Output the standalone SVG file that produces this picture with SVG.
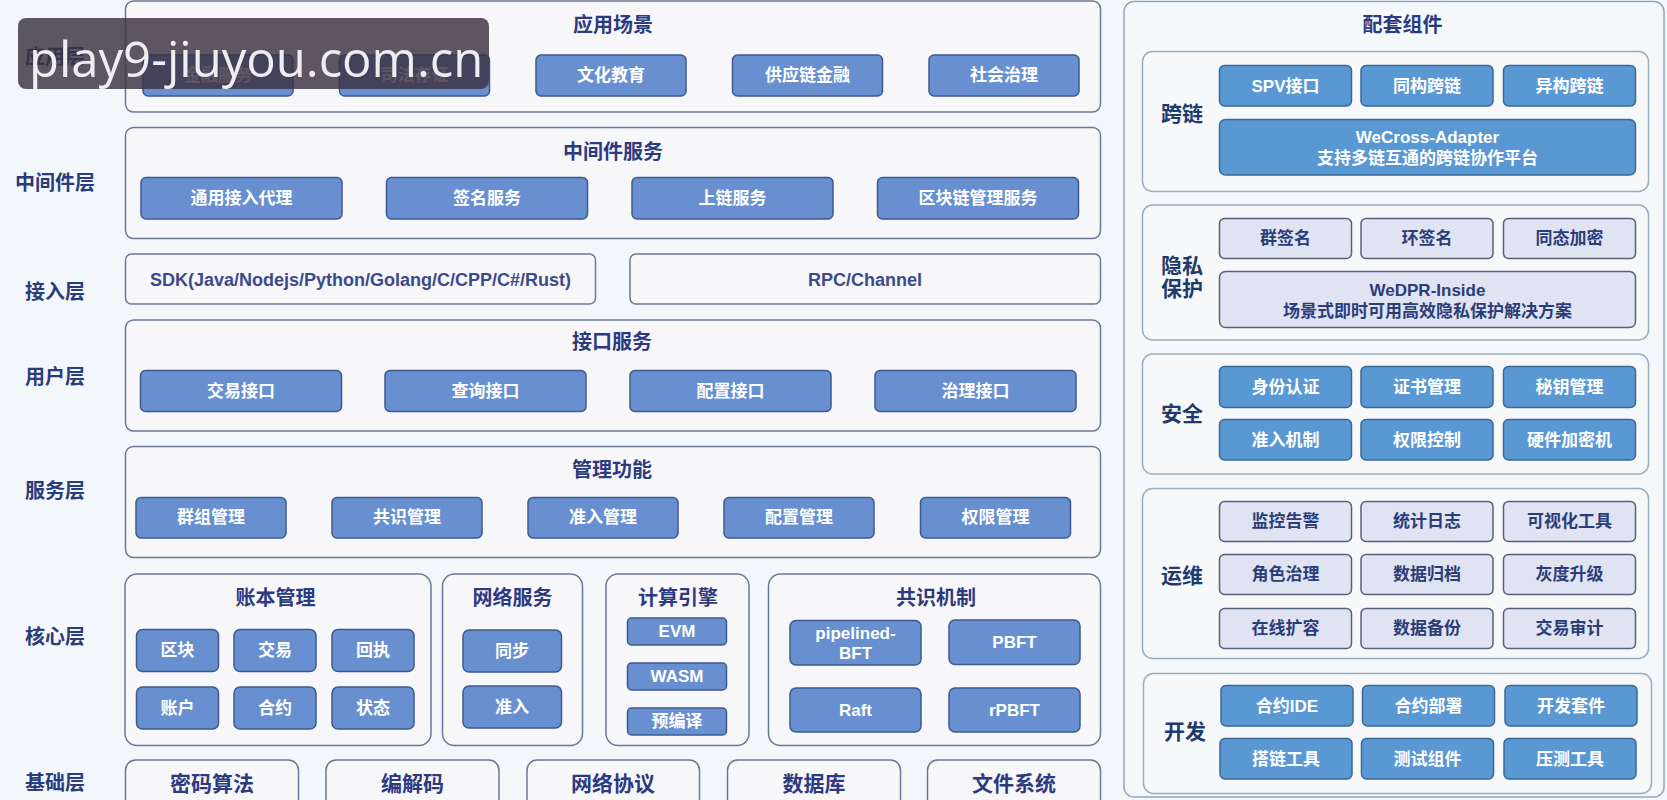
<svg xmlns="http://www.w3.org/2000/svg" width="1667" height="800" viewBox="0 0 1667 800">
  <style>
    text { font-family: "Liberation Sans", "Noto Sans CJK SC", sans-serif; font-weight: bold; text-anchor: middle; dominant-baseline: central; }
    .layer { fill: #f7f6f9; stroke: #6c7795; stroke-width: 1.5; }
    .blk { fill: #6890d0; stroke: #3d5a90; stroke-width: 1.5; }
    .wt { fill: #ffffff; font-size: 17px; }
    .ttl { fill: #2c3a80; font-size: 20px; }
    .lbl { fill: #2a3d7a; font-size: 20px; }
    .lat { fill: #3b4a8c; font-size: 18px; }
    .base { fill: #2c3a80; font-size: 21px; }
    .rpanel { fill: #f5f8fb; stroke: #8fa8bd; stroke-width: 1.5; }
    .rsec { fill: #f7f8fa; stroke: #98aec0; stroke-width: 1.5; }
    .rblk { fill: #5a98d4; stroke: #3a6896; stroke-width: 1.5; }
    .rlite { fill: #dfe3f2; stroke: #55627c; stroke-width: 1.5; }
    .dt { fill: #2b3d78; font-size: 17px; }
    .rlbl { fill: #1f3b6e; font-size: 21px; }
    .wm-box { fill: #3b3140; fill-opacity: 0.82; }
    .wm-text { font-family: "Open Sans", "Noto Sans", sans-serif; font-weight: normal; text-anchor: start; dominant-baseline: alphabetic; fill: #efedf2; font-size: 49px; }
  </style>

  <rect x="0" y="0" width="1667" height="800" fill="#f3f7fb"/>

  <!-- layer labels -->
  <g id="layer-labels">
    <text class="lbl" x="55" y="57">应用层</text>
    <text class="lbl" x="55" y="183">中间件层</text>
    <text class="lbl" x="55" y="291.5">接入层</text>
    <text class="lbl" x="55" y="376.5">用户层</text>
    <text class="lbl" x="55" y="491">服务层</text>
    <text class="lbl" x="55" y="637">核心层</text>
    <text class="lbl" x="55" y="783">基础层</text>
  </g>

  <!-- application layer -->
  <g id="app-scenarios">
    <rect class="layer" x="125.5" y="1" width="975" height="111" rx="8"/>
    <text class="ttl" x="613" y="25">应用场景</text>
    <rect class="blk" x="143" y="55" width="150" height="41" rx="5"/>
    <text class="wt" x="218" y="75.5">金融服务</text>
    <rect class="blk" x="339.5" y="55" width="150" height="41" rx="5"/>
    <text class="wt" x="414.5" y="75.5">司法存证</text>
    <rect class="blk" x="536" y="55" width="150" height="41" rx="5"/>
    <text class="wt" x="611" y="75.5">文化教育</text>
    <rect class="blk" x="732.5" y="55" width="150" height="41" rx="5"/>
    <text class="wt" x="807.5" y="75.5">供应链金融</text>
    <rect class="blk" x="929" y="55" width="150" height="41" rx="5"/>
    <text class="wt" x="1004" y="75.5">社会治理</text>
  </g>

  <!-- middleware layer -->
  <g id="middleware">
    <rect class="layer" x="125.5" y="127.5" width="975" height="111" rx="8"/>
    <text class="ttl" x="613" y="152">中间件服务</text>
    <rect class="blk" x="141" y="177.5" width="201" height="41.5" rx="5"/>
    <text class="wt" x="241.5" y="198">通用接入代理</text>
    <rect class="blk" x="386.5" y="177.5" width="201" height="41.5" rx="5"/>
    <text class="wt" x="487" y="198">签名服务</text>
    <rect class="blk" x="632" y="177.5" width="201" height="41.5" rx="5"/>
    <text class="wt" x="732.5" y="198">上链服务</text>
    <rect class="blk" x="877.5" y="177.5" width="201" height="41.5" rx="5"/>
    <text class="wt" x="978" y="198">区块链管理服务</text>
  </g>

  <!-- access layer -->
  <g id="access-sdk">
    <rect class="layer" x="125.5" y="254" width="470" height="50" rx="6"/>
    <text class="lat" x="360.5" y="280">SDK(Java/Nodejs/Python/Golang/C/CPP/C#/Rust)</text>
  </g>
  <g id="access-rpc">
    <rect class="layer" x="630" y="254" width="470.5" height="50" rx="6"/>
    <text class="lat" x="865" y="280">RPC/Channel</text>
  </g>

  <!-- user layer -->
  <g id="interface-services">
    <rect class="layer" x="125.5" y="320" width="975" height="111" rx="8"/>
    <text class="ttl" x="612" y="342">接口服务</text>
    <rect class="blk" x="140.5" y="370.5" width="201" height="41" rx="5"/>
    <text class="wt" x="241" y="391">交易接口</text>
    <rect class="blk" x="385" y="370.5" width="201" height="41" rx="5"/>
    <text class="wt" x="485.5" y="391">查询接口</text>
    <rect class="blk" x="630" y="370.5" width="201" height="41" rx="5"/>
    <text class="wt" x="730.5" y="391">配置接口</text>
    <rect class="blk" x="875" y="370.5" width="201" height="41" rx="5"/>
    <text class="wt" x="975.5" y="391">治理接口</text>
  </g>

  <!-- service layer -->
  <g id="management">
    <rect class="layer" x="125.5" y="446.5" width="975" height="111" rx="8"/>
    <text class="ttl" x="612" y="469.5">管理功能</text>
    <rect class="blk" x="136" y="497.5" width="150" height="40.5" rx="5"/>
    <text class="wt" x="211" y="517.5">群组管理</text>
    <rect class="blk" x="332" y="497.5" width="150" height="40.5" rx="5"/>
    <text class="wt" x="407" y="517.5">共识管理</text>
    <rect class="blk" x="528" y="497.5" width="150" height="40.5" rx="5"/>
    <text class="wt" x="603" y="517.5">准入管理</text>
    <rect class="blk" x="724" y="497.5" width="150" height="40.5" rx="5"/>
    <text class="wt" x="799" y="517.5">配置管理</text>
    <rect class="blk" x="920.5" y="497.5" width="150" height="40.5" rx="5"/>
    <text class="wt" x="995.5" y="517.5">权限管理</text>
  </g>

  <!-- core layer -->
  <g id="ledger">
    <rect class="layer" x="125" y="574" width="306" height="171.5" rx="12"/>
    <text class="ttl" x="275.5" y="597.5">账本管理</text>
    <rect class="blk" x="136.5" y="629.5" width="82" height="42" rx="6"/>
    <text class="wt" x="177.5" y="650.5">区块</text>
    <rect class="blk" x="234" y="629.5" width="82" height="42" rx="6"/>
    <text class="wt" x="275" y="650.5">交易</text>
    <rect class="blk" x="332" y="629.5" width="82" height="42" rx="6"/>
    <text class="wt" x="373" y="650.5">回执</text>
    <rect class="blk" x="136.5" y="687" width="82" height="42" rx="6"/>
    <text class="wt" x="177.5" y="708">账户</text>
    <rect class="blk" x="234" y="687" width="82" height="42" rx="6"/>
    <text class="wt" x="275" y="708">合约</text>
    <rect class="blk" x="332" y="687" width="82" height="42" rx="6"/>
    <text class="wt" x="373" y="708">状态</text>
  </g>

  <g id="network">
    <rect class="layer" x="442.5" y="574" width="140" height="171.5" rx="12"/>
    <text class="ttl" x="512.5" y="597.5">网络服务</text>
    <rect class="blk" x="463" y="630" width="98.5" height="42" rx="6"/>
    <text class="wt" x="512" y="651">同步</text>
    <rect class="blk" x="463" y="686" width="98.5" height="42" rx="6"/>
    <text class="wt" x="512" y="707">准入</text>
  </g>

  <g id="compute-engine">
    <rect class="layer" x="606" y="574" width="143" height="171.5" rx="12"/>
    <text class="ttl" x="678" y="598">计算引擎</text>
    <rect class="blk" x="627.5" y="618" width="99" height="27" rx="4"/>
    <text class="wt" x="677" y="631.5">EVM</text>
    <rect class="blk" x="627.5" y="663" width="99" height="27" rx="4"/>
    <text class="wt" x="677" y="676.5">WASM</text>
    <rect class="blk" x="627.5" y="708" width="99" height="27" rx="4"/>
    <text class="wt" x="677" y="721.5">预编译</text>
  </g>

  <g id="consensus">
    <rect class="layer" x="768.5" y="574" width="332" height="171.5" rx="12"/>
    <text class="ttl" x="936" y="598">共识机制</text>
    <rect class="blk" x="790" y="620.5" width="131" height="44.5" rx="6"/>
    <text class="wt" x="855.5" y="633">pipelined-</text>
    <text class="wt" x="855.5" y="653">BFT</text>
    <rect class="blk" x="949" y="620" width="131" height="44.5" rx="6"/>
    <text class="wt" x="1014.5" y="642">PBFT</text>
    <rect class="blk" x="790" y="688" width="131" height="44" rx="6"/>
    <text class="wt" x="855.5" y="710">Raft</text>
    <rect class="blk" x="949" y="688" width="131" height="44" rx="6"/>
    <text class="wt" x="1014.5" y="710">rPBFT</text>
  </g>

  <!-- base layer -->
  <g id="crypto">
    <rect class="layer" x="125.5" y="760" width="173" height="60" rx="10"/>
    <text class="base" x="212" y="783">密码算法</text>
  </g>
  <g id="codec">
    <rect class="layer" x="326" y="760" width="173" height="60" rx="10"/>
    <text class="base" x="412.5" y="783">编解码</text>
  </g>
  <g id="net-protocol">
    <rect class="layer" x="527" y="760" width="172.5" height="60" rx="10"/>
    <text class="base" x="613" y="783">网络协议</text>
  </g>
  <g id="database">
    <rect class="layer" x="727.5" y="760" width="173" height="60" rx="10"/>
    <text class="base" x="814" y="783">数据库</text>
  </g>
  <g id="filesystem">
    <rect class="layer" x="927.5" y="760" width="173" height="60" rx="10"/>
    <text class="base" x="1014" y="783">文件系统</text>
  </g>

  <!-- supporting components panel -->
  <g id="support-panel">
    <rect class="rpanel" x="1124" y="1.5" width="540" height="795.5" rx="10"/>
    <text class="ttl" x="1402.5" y="25">配套组件</text>
  </g>

  <g id="cross-chain">
    <rect class="rsec" x="1142.5" y="51.5" width="506" height="140" rx="10"/>
    <text class="rlbl" x="1182" y="113.5">跨链</text>
    <rect class="rblk" x="1219.5" y="65.5" width="132" height="40.5" rx="5"/>
    <text class="wt" x="1285.5" y="86">SPV接口</text>
    <rect class="rblk" x="1361" y="65.5" width="132" height="40.5" rx="5"/>
    <text class="wt" x="1427" y="86">同构跨链</text>
    <rect class="rblk" x="1503.5" y="65.5" width="132" height="40.5" rx="5"/>
    <text class="wt" x="1569.5" y="86">异构跨链</text>
    <rect class="rblk" x="1219.5" y="119.5" width="416" height="55.5" rx="6"/>
    <text class="wt" x="1427.5" y="137">WeCross-Adapter</text>
    <text class="wt" x="1427.5" y="158.5">支持多链互通的跨链协作平台</text>
  </g>

  <g id="privacy">
    <rect class="rsec" x="1142.5" y="205" width="506" height="135" rx="10"/>
    <text class="rlbl" x="1182" y="265">隐私</text>
    <text class="rlbl" x="1182" y="288.5">保护</text>
    <rect class="rlite" x="1219.5" y="218.5" width="132" height="40" rx="5"/>
    <text class="dt" x="1285.5" y="238.5">群签名</text>
    <rect class="rlite" x="1361" y="218.5" width="132" height="40" rx="5"/>
    <text class="dt" x="1427" y="238.5">环签名</text>
    <rect class="rlite" x="1503.5" y="218.5" width="132" height="40" rx="5"/>
    <text class="dt" x="1569.5" y="238.5">同态加密</text>
    <rect class="rlite" x="1219.5" y="271.5" width="416" height="56" rx="6"/>
    <text class="dt" x="1427.5" y="290">WeDPR-Inside</text>
    <text class="dt" x="1427.5" y="311.5">场景式即时可用高效隐私保护解决方案</text>
  </g>

  <g id="security">
    <rect class="rsec" x="1142.5" y="354" width="506" height="120" rx="10"/>
    <text class="rlbl" x="1182" y="413.5">安全</text>
    <rect class="rblk" x="1219.5" y="366.5" width="132" height="41" rx="5"/>
    <text class="wt" x="1285.5" y="387">身份认证</text>
    <rect class="rblk" x="1361" y="366.5" width="132" height="41" rx="5"/>
    <text class="wt" x="1427" y="387">证书管理</text>
    <rect class="rblk" x="1503.5" y="366.5" width="132" height="41" rx="5"/>
    <text class="wt" x="1569.5" y="387">秘钥管理</text>
    <rect class="rblk" x="1219.5" y="419.5" width="132" height="40.5" rx="5"/>
    <text class="wt" x="1285.5" y="440">准入机制</text>
    <rect class="rblk" x="1361" y="419.5" width="132" height="40.5" rx="5"/>
    <text class="wt" x="1427" y="440">权限控制</text>
    <rect class="rblk" x="1503.5" y="419.5" width="132" height="40.5" rx="5"/>
    <text class="wt" x="1569.5" y="440">硬件加密机</text>
  </g>

  <g id="operations">
    <rect class="rsec" x="1142.5" y="488.5" width="506" height="170" rx="10"/>
    <text class="rlbl" x="1182" y="575">运维</text>
    <rect class="rlite" x="1219.5" y="501.5" width="132" height="40" rx="5"/>
    <text class="dt" x="1285.5" y="521.5">监控告警</text>
    <rect class="rlite" x="1361" y="501.5" width="132" height="40" rx="5"/>
    <text class="dt" x="1427" y="521.5">统计日志</text>
    <rect class="rlite" x="1503.5" y="501.5" width="132" height="40" rx="5"/>
    <text class="dt" x="1569.5" y="521.5">可视化工具</text>
    <rect class="rlite" x="1219.5" y="554.5" width="132" height="40" rx="5"/>
    <text class="dt" x="1285.5" y="574.5">角色治理</text>
    <rect class="rlite" x="1361" y="554.5" width="132" height="40" rx="5"/>
    <text class="dt" x="1427" y="574.5">数据归档</text>
    <rect class="rlite" x="1503.5" y="554.5" width="132" height="40" rx="5"/>
    <text class="dt" x="1569.5" y="574.5">灰度升级</text>
    <rect class="rlite" x="1219.5" y="608.5" width="132" height="40" rx="5"/>
    <text class="dt" x="1285.5" y="628.5">在线扩容</text>
    <rect class="rlite" x="1361" y="608.5" width="132" height="40" rx="5"/>
    <text class="dt" x="1427" y="628.5">数据备份</text>
    <rect class="rlite" x="1503.5" y="608.5" width="132" height="40" rx="5"/>
    <text class="dt" x="1569.5" y="628.5">交易审计</text>
  </g>

  <g id="development">
    <rect class="rsec" x="1143.5" y="673.5" width="508" height="120" rx="10"/>
    <text class="rlbl" x="1185" y="731.5">开发</text>
    <rect class="rblk" x="1221" y="685.5" width="132" height="40.5" rx="5"/>
    <text class="wt" x="1287" y="706">合约IDE</text>
    <rect class="rblk" x="1362.5" y="685.5" width="132" height="40.5" rx="5"/>
    <text class="wt" x="1428.5" y="706">合约部署</text>
    <rect class="rblk" x="1505" y="685.5" width="132" height="40.5" rx="5"/>
    <text class="wt" x="1571" y="706">开发套件</text>
    <rect class="rblk" x="1220" y="738.5" width="132" height="40.5" rx="5"/>
    <text class="wt" x="1286" y="759">搭链工具</text>
    <rect class="rblk" x="1361.5" y="738.5" width="132" height="40.5" rx="5"/>
    <text class="wt" x="1427.5" y="759">测试组件</text>
    <rect class="rblk" x="1504" y="738.5" width="132" height="40.5" rx="5"/>
    <text class="wt" x="1570" y="759">压测工具</text>
  </g>

  <!-- site banner overlay -->
  <g id="banner">
    <rect class="wm-box" x="18" y="18" width="471" height="71" rx="8"/>
    <text class="wm-text" x="29" y="77">play9-jiuyou.com.cn</text>
  </g>
</svg>
